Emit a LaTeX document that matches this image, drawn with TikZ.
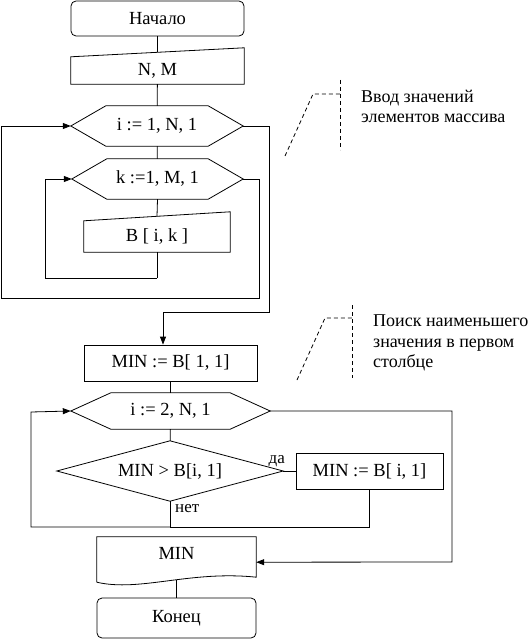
\documentclass[tikz,border=0pt]{standalone}
\usepackage{fontspec}
\setmainfont{Liberation Serif}
\usetikzlibrary{calc,arrows.meta}

\tikzset{
  base/.style={inner sep=0pt, font=\fontsize{18.5}{20.5}\selectfont},
  term/.style={base, draw, line width=0.8pt, rounded corners=5pt, minimum width=173pt, minimum height=35pt},
  proc/.style={base, draw, line width=0.8pt, minimum height=36pt},
  flat/.style={base},
  line/.style={line width=0.8pt},
  arr/.style={line, -{Triangle[length=8pt,width=6pt]}},
  note/.style={line width=0.8pt, dash pattern=on 4pt off 3pt},
  notetext/.style={inner sep=0pt, anchor=west, align=left, font=\fontsize{18}{20.5}\selectfont},
  lbl/.style={font=\fontsize{17}{19}\selectfont, inner sep=0pt}
}

% outlines drawn round plain nodes
\newcommand{\hexa}[2]{%
  \draw[line] (#1.west) -- ($(#1.north west)+(#2,0)$) -- ($(#1.north east)+(-#2,0)$)
    -- (#1.east) -- ($(#1.south east)+(-#2,0)$) -- ($(#1.south west)+(#2,0)$) -- cycle;}
\newcommand{\manin}[2]{%
  \draw[line] (#1.south west) -- (#1.north west) -- ($(#1.north east)+(0,-#2)$)
    -- (#1.south east) -- cycle;}
\newcommand{\rhomb}[1]{%
  \draw[line] (#1.west) -- (#1.north) -- (#1.east) -- (#1.south) -- cycle;}

\begin{document}
\begin{tikzpicture}[x=1pt,y=-1pt]
  \useasboundingbox (0,0) rectangle (528,639);

  % input part
  \node[term] (start) at (157.5,18.5) {Начало};
  \node[flat, minimum width=173pt, minimum height=27pt] (inNM) at (157.5,70.5) {N, M};
  \manin{inNM}{9}
  \node[flat, minimum width=172pt, minimum height=40pt] (loopI) at (157,126) {i := 1, N, 1};
  \hexa{loopI}{35}
  \node[flat, minimum width=171pt, minimum height=40pt] (loopK) at (157.5,179) {k :=1, M, 1};
  \hexa{loopK}{35}
  \node[flat, minimum width=146pt, minimum height=31pt] (inB) at (157,236.5) {B [ i, k ]};
  \manin{inB}{9}

  \draw[line] (start.south) -- ($(inNM.north)+(0,-4.5)$);
  \draw[line] (inNM) -- (loopI);
  \draw[line] (loopI) -- (loopK);
  \draw[line] (loopK.south) -- ($(inB.north)+(0,-4.5)$);
  \coordinate (kb) at (157,278);
  \draw[line] (inB.south) -- (kb);
  \draw[arr] (kb) -| (45,179) -- (loopK.west);
  \draw[arr] (loopK.east) -| (259,298) -| (1,126) -- (loopI.west);

  % search part
  \node[proc, minimum width=173pt] (minA) at (170.5,363) {MIN := B[ 1, 1]};
  \draw[arr] (loopI.east) -| (269,312) -| ($(minA.north)+(-7.5,0)$);
  \node[flat, minimum width=199pt, minimum height=36pt] (loopI2) at (170.5,411) {i := 2, N, 1};
  \hexa{loopI2}{40}
  \node[flat, minimum width=226pt, minimum height=60pt] (cmp) at (170,471) {MIN > B[i, 1]};
  \rhomb{cmp}
  \node[proc, minimum width=147pt] (minB) at (369.5,471) {MIN := B[ i, 1]};
  \node[lbl, anchor=base east] (yes) at (285,463) {да};
  \node[lbl, anchor=base west] (no) at (175,512) {нет};

  \draw[line] (minA) -- (loopI2);
  \draw[line] (loopI2) -- (cmp);
  \draw[line] (cmp.east) -- (minB.west);
  \coordinate (jn) at (170,527);
  \draw[line] (cmp.south) -- (jn);
  \draw[line] (minB.south) |- (jn);
  \draw[arr] (jn) -| (31,412) -- (loopI2.west);

  % output part
  \node[flat, minimum width=159pt, minimum height=33pt] (docM) at (176.5,553.5) {MIN};
  \draw[line] ($(docM.south west)+(0,12)$) -- (docM.north west) -- (docM.north east)
    -- ($(docM.south east)+(0,7)$) .. controls ($(docM.south east)+(-66,0)$)
    and ($(docM.south west)+(43,22)$) .. ($(docM.south west)+(0,12)$);
  \draw[arr] (loopI2.east) -| (452,562) -- ($(docM.south east)+(0,-8)$);
  \node[term, minimum width=159pt, minimum height=40pt] (stop) at (176.5,618) {Конец};
  \draw[line] (stop.north) -- ++(0,-18);

  % comments
  \node[notetext] (note1) at (361,106.5) {Ввод значений\\элементов массива};
  \draw[note] (285,156) -- (313,94) -- (340,94);
  \draw[note] (340,80) -- (340,150);
  \node[notetext] (note2) at (373,343) {Поиск наименьшего\\значения в первом\\столбце};
  \draw[note] (297,380) -- (325,318) -- (352,318);
  \draw[note] (352,305) -- (352,378);
\end{tikzpicture}
\end{document}
